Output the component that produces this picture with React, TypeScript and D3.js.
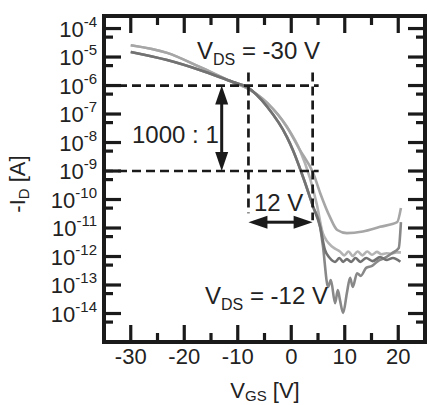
import React from 'react';
import * as d3 from 'd3';

// ---------- data (V_GS in volts, -I_D in amperes) ----------
const vgsL1 = [-30, -23.2, -17.1, -10.9, -8.3, -4.5, -0.8, 1.6, 4.1, 5.4, 7.2, 8.6, 10.4, 13.4, 16.6, 19.8, 20.5];
const idL1 = [2.6e-5, 1.4e-5, 4.5e-6, 1.3e-6, 8.1e-7, 2.45e-7, 3.5e-8, 5.5e-9, 8.5e-10, 1.7e-10, 2.5e-11, 8.5e-12, 6.6e-12, 7.6e-12, 1.1e-11, 1.6e-11, 5.0e-11];

const vgsL2 = [-30, -23.2, -17.1, -10.9, -8.3, -4.5, -0.8, 1.6, 3.5, 4.8, 5.9, 7.8, 9.1, 9.9, 10.7, 11.5, 12.4, 13.3, 14.2, 15.1, 16.0, 16.9, 17.8, 18.7, 19.6, 20.5];
const idL2 = [2.6e-5, 1.4e-5, 4.5e-6, 1.3e-6, 8.1e-7, 2.45e-7, 3.5e-8, 5.5e-9, 5.6e-10, 6.5e-11, 6.6e-12, 2.1e-12, 1.5e-12, 1.1e-12, 1.5e-12, 1.05e-12, 1.5e-12, 1.1e-12, 1.5e-12, 1.15e-12, 1.45e-12, 1.2e-12, 1.3e-12, 1.25e-12, 1.4e-12, 1.4e-12];

const vgsM = [-30, -23.2, -17.1, -10.9, -8.3, -4.5, -0.8, 0.3, 2.6, 4.1, 5.4, 6.3, 7.2, 8.2, 9.0, 9.7, 10.4, 11.2, 12.0, 12.9, 14.0, 15.2, 16.6, 17.9, 19.0, 20.4];
const idM = [1.5e-5, 7.8e-6, 3.5e-6, 1.32e-6, 8.9e-7, 1.8e-7, 1.55e-8, 5.5e-9, 3.8e-10, 5.5e-11, 1.1e-11, 1.7e-12, 8.9e-13, 6.5e-13, 8.9e-13, 6.5e-13, 8.1e-13, 6.5e-13, 8.9e-13, 6.5e-13, 8.9e-13, 6.9e-13, 9.5e-13, 7.6e-13, 8.9e-13, 6.5e-13];

const vgsD = [-30, -23.2, -17.1, -10.9, -8.3, -4.5, -0.8, 0.3, 2.6, 4.1, 5.4, 5.9, 6.9, 7.4, 8.2, 8.7, 9.1, 9.7, 10.4, 11.0, 11.5, 12.3, 13.0, 14.0, 15.1, 16.2, 17.5, 18.8, 20.1, 20.5];
const idD = [1.5e-5, 7.8e-6, 3.5e-6, 1.32e-6, 8.9e-7, 1.8e-7, 1.55e-8, 5.5e-9, 3.8e-10, 5.5e-11, 1.1e-11, 2.5e-12, 8.5e-14, 1.5e-13, 2.3e-14, 6.6e-14, 3.0e-14, 1.05e-14, 5.2e-14, 1.8e-13, 8.5e-14, 2.6e-13, 2.1e-13, 4.0e-13, 4.7e-13, 6.9e-13, 8.9e-13, 1.3e-12, 2.0e-12, 1.6e-11];

const xMajorTicks = [-30, -20, -10, 0, 10, 20];
const xMinorTicks = [-25, -15, -5, 5, 15];
const yExponents = [-4, -5, -6, -7, -8, -9, -10, -11, -12, -13, -14];
const yMinorTicks = [5e-5, 5e-6, 5e-7, 5e-8, 5e-9, 5e-10, 5e-11, 5e-12, 5e-13, 5e-14, 5e-15];

// annotation anchors (data units)
const vOn = -8;
const vOff = 4;
const iHigh = 1e-6;
const iLow = 1e-9;
const ratioArrowV = -13;
const swingArrowI = 1.6e-11;

const series = [
  { v: vgsL2, i: idL2, color: '#b3b3b3' },
  { v: vgsL1, i: idL1, color: '#a6a6a6' },
  { v: vgsD, i: idD, color: '#888888' },
  { v: vgsM, i: idM, color: '#727272' },
];

export default function App() {
  const W = 428, H = 405;
  const left = 104, right = 425, top = 16, bottom = 342;
  const x = d3.scaleLinear().domain([-35, 25]).range([left, right]);
  const y = d3.scaleLog().domain([1e-15, Math.pow(10, -3.56)]).range([bottom, top]);
  const line = d3
    .line<[number, number]>()
    .x((d) => x(d[0]))
    .y((d) => y(d[1]))
    .curve(d3.curveMonotoneX);

  const axisColor = '#1a1a1a';
  const font = "'Liberation Sans', Arial, Helvetica, sans-serif";
  const majorLen = 17, minorLen = 9;
  const dash = '9 5';

  const xOn = x(vOn), xOff = x(vOff), yHigh = y(iHigh), yLow = y(iLow);
  const xr = x(ratioArrowV);
  const ya = y(swingArrowI);
  const hl = 19, hw = 6.5;

  return (
    <svg width={W} height={H} style={{ position: 'absolute', left: 0, top: 0, background: '#fff' }} fontFamily={font}>
      {/* curves */}
      {series.map((s, k) => (
        <path
          key={k}
          d={line(s.v.map((v, j) => [v, s.i[j]] as [number, number])) || ''}
          fill="none"
          stroke={s.color}
          strokeWidth={2.6}
          strokeLinejoin="round"
        />
      ))}

      {/* dashed guide lines */}
      <g stroke={axisColor} strokeWidth={2.7} strokeDasharray={dash} fill="none">
        <line x1={left} x2={xOff + 6} y1={yHigh} y2={yHigh} />
        <line x1={left} x2={xOff + 6} y1={yLow} y2={yLow} />
        <line x1={xOn} x2={xOn} y1={yHigh - 13} y2={ya - 9} />
        <line x1={xOff} x2={xOff} y1={yHigh - 13} y2={ya - 2} />
      </g>

      {/* vertical ratio arrow */}
      <g fill={axisColor} stroke="none">
        <rect x={xr - 1.5} y={yHigh + hl - 2} width={3} height={yLow - yHigh - 2 * hl + 4} />
        <path d={`M${xr},${yHigh} L${xr - hw},${yHigh + hl} L${xr + hw},${yHigh + hl} Z`} />
        <path d={`M${xr},${yLow} L${xr - hw},${yLow - hl} L${xr + hw},${yLow - hl} Z`} />
        {/* horizontal swing arrow */}
        <rect x={xOn + hl - 2} y={ya - 1.5} width={xOff - xOn - 2 * hl + 4} height={3} />
        <path d={`M${xOn},${ya} L${xOn + hl},${ya - hw} L${xOn + hl},${ya + hw} Z`} />
        <path d={`M${xOff},${ya} L${xOff - hl},${ya - hw} L${xOff - hl},${ya + hw} Z`} />
      </g>

      {/* ticks */}
      <g stroke={axisColor} strokeWidth={3.2}>
        {xMajorTicks.map((t) => (
          <g key={'xm' + t}>
            <line x1={x(t)} x2={x(t)} y1={bottom} y2={bottom - majorLen} />
            <line x1={x(t)} x2={x(t)} y1={top} y2={top + majorLen} />
          </g>
        ))}
        {xMinorTicks.map((t) => (
          <g key={'xn' + t}>
            <line x1={x(t)} x2={x(t)} y1={bottom} y2={bottom - minorLen} />
            <line x1={x(t)} x2={x(t)} y1={top} y2={top + minorLen} />
          </g>
        ))}
        {yExponents.map((e) => (
          <g key={'ym' + e}>
            <line x1={left} x2={left + majorLen} y1={y(Math.pow(10, e))} y2={y(Math.pow(10, e))} />
            <line x1={right} x2={right - majorLen} y1={y(Math.pow(10, e))} y2={y(Math.pow(10, e))} />
          </g>
        ))}
        {yMinorTicks.map((t) => (
          <g key={'yn' + t}>
            <line x1={left} x2={left + minorLen} y1={y(t)} y2={y(t)} />
            <line x1={right} x2={right - minorLen} y1={y(t)} y2={y(t)} />
          </g>
        ))}
      </g>

      {/* frame */}
      <rect x={left} y={top} width={right - left} height={bottom - top} fill="none" stroke={axisColor} strokeWidth={4} />

      {/* tick labels */}
      <g fill="#222" fontSize={22}>
        {xMajorTicks.map((t) => (
          <text key={'xl' + t} x={x(t)} y={bottom + 22} textAnchor="middle">
            {t}
          </text>
        ))}
        {yExponents.map((e) => (
          <text key={'yl' + e} x={left - 7} y={y(Math.pow(10, e)) + 8} textAnchor="end">
            10
            <tspan fontSize={15} dy={-10}>{e}</tspan>
          </text>
        ))}
      </g>

      {/* axis titles */}
      <g fill="#222">
        <text x={265} y={398} textAnchor="middle" fontSize={22}>
          V<tspan fontSize={15} dy={3}>GS</tspan>
          <tspan dy={-3} fontSize={22}> [V]</tspan>
        </text>
        <text transform="translate(25,184) rotate(-90)" textAnchor="middle" fontSize={22}>
          -I<tspan fontSize={15} dy={4}>D</tspan>
          <tspan dy={-4} fontSize={22}> [A]</tspan>
        </text>
      </g>

      {/* annotations */}
      <g fill="#222" fontSize={24} style={{ whiteSpace: 'pre' }}>
        <text x={197} y={59}>
          V<tspan fontSize={16} dy={6}>DS</tspan>
          <tspan dy={-6} fontSize={24}>{'  = -30 V'}</tspan>
        </text>
        <text x={132} y={143}>1000 : 1</text>
        <text x={254} y={211}>12 V</text>
        <text x={205} y={304}>
          V<tspan fontSize={16} dy={6}>DS</tspan>
          <tspan dy={-6} fontSize={24}>{' = -12 V'}</tspan>
        </text>
      </g>
    </svg>
  );
}
